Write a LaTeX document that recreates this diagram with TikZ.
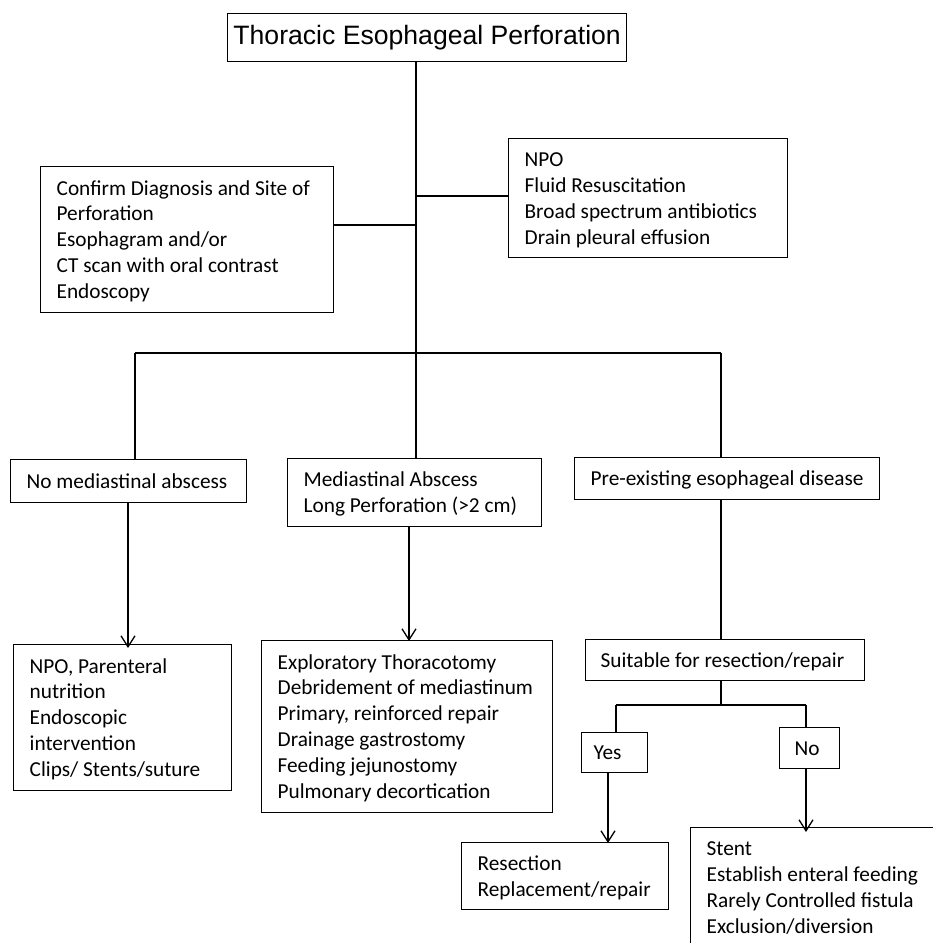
\documentclass[tikz,border=0pt]{standalone}
\usepackage{fontspec}
\setmainfont{Carlito}
\newfontfamily\arialf{Liberation Sans}
\usetikzlibrary{arrows.meta}
\newcommand{\lines}[1]{\raisebox{-2pt}[\height][\depth]{\begin{tabular}{@{}l@{}}#1\end{tabular}}}
\begin{document}
\begin{tikzpicture}[x=1pt,y=-1pt,
  line width=1.3pt,
  boxnode/.style={draw, line width=1.3pt, anchor=north west, inner xsep=16pt, inner ysep=0pt,
     align=flush left, font=\fontsize{21.3}{25.9}\selectfont},
  arr/.style={-{Straight Barb[length=11pt,width=14pt]}}]
\useasboundingbox (0,0) rectangle (933,943);
\clip (0,0) rectangle (933,943);
% boxes
\node[draw, line width=1.3pt, anchor=north west, minimum width=399pt, minimum height=48pt, inner sep=0pt,
      font=\arialf\fontsize{26.6}{30}\selectfont] (title) at (227,13) {Thoracic Esophageal Perforation};
\node[boxnode, text width=261pt, minimum height=146pt] (confirm) at (40,166)
  {\lines{Confirm Diagnosis and Site of\\Perforation\\Esophagram and/or\\CT scan with oral contrast\\Endoscopy}};
\node[boxnode, text width=247pt, minimum height=119pt] (npo1) at (508,138)
  {\lines{NPO\\Fluid Resuscitation\\Broad spectrum antibiotics\\Drain pleural effusion}};
\node[boxnode, text width=204pt, minimum height=43pt] (noabs) at (10,459) {\lines{No mediastinal abscess}};
\node[boxnode, text width=222pt, minimum height=68pt] (medabs) at (287,458)
  {\lines{Mediastinal Abscess\\Long Perforation (>2 cm)}};
\node[boxnode, text width=273pt, minimum height=42pt] (pre) at (574,457) {\lines{Pre-existing esophageal disease}};
\node[boxnode, text width=186pt, minimum height=146pt] (npo2) at (13,644)
  {\lines{NPO, Parenteral\\nutrition\\Endoscopic\\intervention\\Clips/ Stents/suture}};
\node[boxnode, text width=259pt, minimum height=172pt] (expl) at (261,640)
  {\lines{Exploratory Thoracotomy\\Debridement of mediastinum\\Primary, reinforced repair\\Drainage gastrostomy\\Feeding jejunostomy\\Pulmonary decortication}};
\node[boxnode, inner xsep=15pt, text width=249pt, minimum height=41pt] (suit) at (585,639) {\lines{Suitable for resection/repair}};
\node[boxnode, inner xsep=12pt, text width=42pt, minimum height=40pt] (yes) at (581,732) {\lines{Yes}};
\node[boxnode, inner xsep=15pt, text width=30pt, minimum height=41pt] (no) at (779,727) {\lines{No}};
\node[boxnode, text width=175pt, minimum height=67pt] (resec) at (461,842) {\lines{Resection\\Replacement/repair}};
\node[boxnode, text width=228pt, minimum height=119pt] (stent) at (690,827)
  {\lines{Stent\\Establish enteral feeding\\Rarely Controlled fistula\\Exclusion/diversion}};
% junctions
\coordinate (jR) at (416,196);
\coordinate (jL) at (416,225);
\coordinate (jH) at (416,353);
\coordinate (hL) at (135,353);
\coordinate (hR) at (721,353);
\coordinate (cA) at (128,0);
\coordinate (cB) at (409,0);
\coordinate (sp) at (721,705);
\coordinate (sL) at (616,705);
\coordinate (sR) at (806,705);
\coordinate (cY) at (608,0);
% connectors
\draw (title.south -| jH) -- (jH);
\draw (jR) -- (jR -| npo1.west);
\draw (jL) -- (jL -| confirm.east);
\draw (hL) -- (hR);
\draw (hL) -- (hL |- noabs.north);
\draw (jH) -- (jH |- medabs.north);
\draw (hR) -- (hR |- pre.north);
\draw[arr] (noabs.south -| cA) -- ([yshift=-4pt]npo2.north -| cA);
\draw[arr] (medabs.south -| cB) -- ([yshift=-1pt]expl.north -| cB);
\draw (pre.south -| hR) -- (suit.north -| hR);
\draw (suit.south -| sp) -- (sp);
\draw (sL) -- (sR);
\draw (sL) -- (sL |- yes.north);
\draw (sR) -- (sR |- no.north);
\draw[arr] (yes.south -| cY) -- ([yshift=-1pt]resec.north -| cY);
\draw[arr] (no.south -| sR) -- ([yshift=-5pt]stent.north -| sR);
\end{tikzpicture}
\end{document}
